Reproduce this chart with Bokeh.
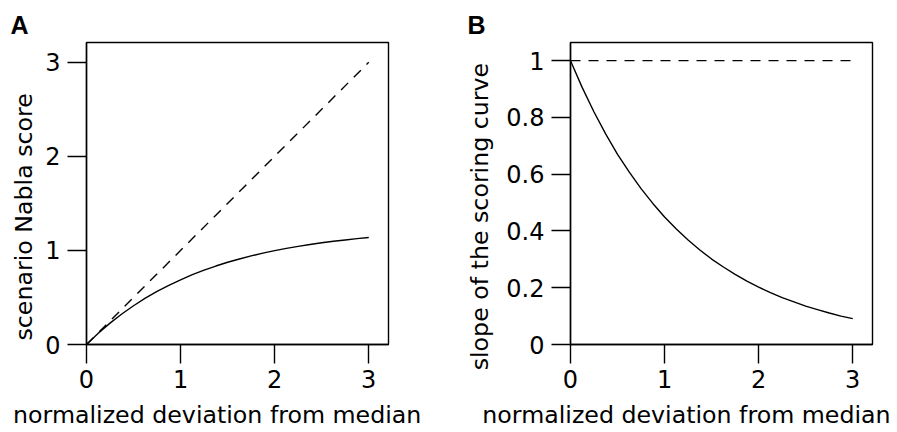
from bokeh.embed import file_html
from bokeh.layouts import row
from bokeh.models import FixedTicker, Range1d, Title
from bokeh.plotting import figure
from bokeh.resources import INLINE

# deviation grid shared by both panels
deviation = [0.0, 0.125, 0.25, 0.375, 0.5, 0.625, 0.75, 0.875, 1.0, 1.125, 1.25,
             1.375, 1.5, 1.625, 1.75, 1.875, 2.0, 2.125, 2.25, 2.375, 2.5, 2.625,
             2.75, 2.875, 3.0]

# panel A: scenario Nabla score along the deviation grid
nabla_score = [0.0, 0.119, 0.227, 0.324, 0.412, 0.492, 0.564, 0.629, 0.688, 0.742,
               0.790, 0.834, 0.874, 0.909, 0.942, 0.971, 0.998, 1.022, 1.043, 1.063,
               1.081, 1.097, 1.111, 1.125, 1.137]

# panel B: slope of the scoring curve along the deviation grid
score_slope = [1.0, 0.905, 0.819, 0.741, 0.670, 0.607, 0.549, 0.497, 0.449, 0.407,
               0.368, 0.333, 0.301, 0.273, 0.247, 0.223, 0.202, 0.183, 0.165, 0.150,
               0.135, 0.123, 0.111, 0.100, 0.091]

# reference lines (identity score, unit slope)
identity_x = [0.0, 3.0]
identity_score = [0.0, 3.0]
unit_slope = [1.0, 1.0]

ticks_a_x = [0, 1, 2, 3]
ticks_a_y = [0, 1, 2, 3]
ticks_b_x = [0, 1, 2, 3]
ticks_b_y = [0, 0.2, 0.4, 0.6, 0.8, 1]
tick_labels_b_y = ["0", "0.2", "0.4", "0.6", "0.8", "1"]

x_title = "normalized deviation from median"
y_title_a = "scenario Nabla score"
y_title_b = "slope of the scoring curve"

FONT = "DejaVu Sans"
FS = "24px"
TITLE_FS = "23.7px"
LW = 1.4


def make_panel(border_left, border_right, y_max):
    p = figure(
        frame_width=302, frame_height=302,
        min_border_left=border_left, min_border_right=border_right,
        min_border_top=42, min_border_bottom=90,
        x_range=Range1d(0, 3.21), y_range=Range1d(0, y_max),
        output_backend="svg", toolbar_location=None,
        background_fill_color="white", border_fill_color="white",
    )
    p.outline_line_color = "black"
    p.outline_line_width = LW
    p.outline_line_alpha = 1.0
    p.grid.visible = False
    for ax in (p.xaxis[0], p.yaxis[0]):
        ax.axis_line_color = "black"
        ax.axis_line_width = LW
        ax.major_tick_line_color = "black"
        ax.major_tick_line_width = LW
        ax.major_tick_out = 19
        ax.major_tick_in = 0
        ax.minor_tick_line_color = None
        ax.major_label_text_font = FONT
        ax.major_label_text_font_size = FS
        ax.major_label_text_color = "black"
    p.xaxis[0].major_label_standoff = 6
    p.yaxis[0].major_label_standoff = 7
    return p


def side_title(p, text, side, offset, standoff):
    # left-aligned so that the offset positions the text along the frame side
    p.add_layout(Title(
        text=text, align="left", offset=offset, standoff=standoff,
        text_font=FONT, text_font_size=TITLE_FS, text_font_style="normal",
        text_color="black",
    ), side)


def panel_letter(p, text, offset):
    # letter sits at the top edge of the header band
    p.add_layout(Title(
        text=text, align="left", offset=offset, standoff=4,
        vertical_align="top",
        text_font="Liberation Sans", text_font_size="25px",
        text_font_style="bold", text_color="black",
    ), "above")


# Panel A: score curve against the identity line
pa = make_panel(86, 61, 3.21)
pa.xaxis[0].ticker = FixedTicker(ticks=ticks_a_x)
pa.yaxis[0].ticker = FixedTicker(ticks=ticks_a_y)
pa.line(identity_x, identity_score, line_color="black", line_width=LW, line_dash="10 8")
pa.line(deviation, nabla_score, line_color="black", line_width=LW)
side_title(pa, x_title, "below", -73.4, 16)
side_title(pa, y_title_a, "left", 4, 10)
panel_letter(pa, "A", -76)

# Panel B: slope of the score curve against unit slope
pb = make_panel(121, 24, 1.064)
pb.xaxis[0].ticker = FixedTicker(ticks=ticks_b_x)
pb.yaxis[0].ticker = FixedTicker(ticks=ticks_b_y)
pb.yaxis[0].major_label_overrides = dict(zip(ticks_b_y, tick_labels_b_y))
pb.line(identity_x, unit_slope, line_color="black", line_width=LW, line_dash="10 8")
pb.line(deviation, score_slope, line_color="black", line_width=LW)
side_title(pb, x_title, "below", -88.2, 16)
side_title(pb, y_title_b, "left", -25.8, 20)
panel_letter(pb, "B", -103)

layout = row(pa, pb)
open("out.html", "w").write(file_html(layout, INLINE))
